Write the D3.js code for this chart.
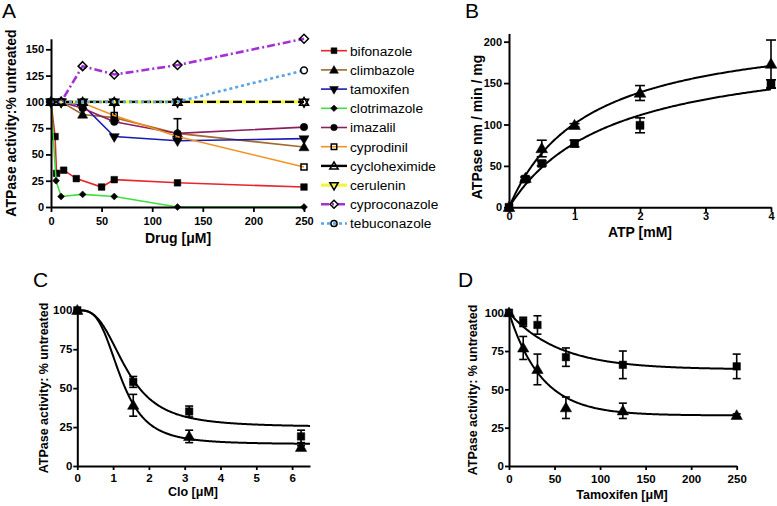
<!DOCTYPE html>
<html><head><meta charset="utf-8">
<script src="https://cdn.jsdelivr.net/npm/d3@7"></script>
<style>body{margin:0;background:#fff}</style>
</head><body><svg id="c" width="777" height="506"></svg>
<script>
// ---------- Panel A data ----------
const drugNames = ["bifonazole","climbazole","tamoxifen","clotrimazole","imazalil","cyprodinil","cycloheximide","cerulenin","cyproconazole","tebuconazole"];
const concA = [0, 10, 31.25, 62.5, 125, 250];
const bifonazoleX = [0, 4, 5.5, 12.5, 25, 50, 62.5, 125, 250];
const bifonazoleY = [100, 67, 32, 35, 27, 19, 26, 23, 19];
const clotrimazoleX = [0, 5, 10, 31.25, 62.5, 125, 250];
const clotrimazoleY = [100, 25, 10, 12, 10, 0, 0];
const climbazoleY = [100, 100, 88, 85, 70, 57];
const climbazoleErr = [0, 0, 6, 0, 0, 0];
const tamoxifenY = [100, 100, 97, 67, 63, 65];
const imazalilY = [100, 100, 94, 81, 70, 76];
const cyprodinilY = [100, 100, 99, 87, 67, 38];
const cyprodinilErr = [0, 0, 0, 11, 17, 0];
const cycloheximideY = [100, 100, 100, 100, 100, 100];
const ceruleninY = [100, 100, 100, 100, 100, 100];
const cyproconazoleY = [100, 100, 134, 126, 135, 160];
const tebuconazoleY = [100, 100, 100, 100, 100, 130];
const ticksAX = [0, 50, 100, 150, 200, 250];
const ticksAY = [0, 25, 50, 75, 100, 125, 150];

// ---------- Panel B data ----------
const atpConc = [0, 0.25, 0.5, 1, 2, 4];
const bTri = [0, 35, 71, 99, 138, 173];
const bTriErr = [0, 2, 10, 2, 9, 29];
const bSq = [0, 34, 53, 77, 99, 149];
const bSqErr = [0, 2, 3, 4, 9, 5];
const bTriFit = {vmax: 222, km: 1.2};
const bSqFit = {vmax: 198, km: 1.56};
const ticksBX = [0, 1, 2, 3, 4];
const ticksBY = [0, 50, 100, 150, 200];

// ---------- Panel C data ----------
const cloConc = [0, 1.5625, 3.125, 6.25];
const cSq = [100, 54, 35, 19];
const cSqErr = [0, 3.5, 3.5, 4];
const cTri = [100, 39, 19, 12];
const cTriErr = [0, 7, 4, 1];
const cSqFit = {top: 100, bottom: 25, ic50: 1.37, hill: 2.95};
const cTriFit = {top: 100, bottom: 14, ic50: 1.215, hill: 3.39};
const ticksCX = [0, 1, 2, 3, 4, 5, 6];
const ticksCY = [0, 25, 50, 75, 100];

// ---------- Panel D data ----------
const tamConc = [0, 15.625, 31.25, 62.5, 125, 250];
const dSq = [100, 94, 92, 71, 66, 65];
const dSqErr = [0, 3, 6, 6, 9, 8];
const dTri = [100, 77, 63, 38, 36, 33];
const dTriErr = [0, 7.5, 10, 7, 5, 1];
const dSqFit = {plateau: 63, k: 0.0181};
const dTriFit = {plateau: 33, k: 0.0279};
const ticksDX = [0, 50, 100, 150, 200, 250];
const ticksDY = [0, 25, 50, 75, 100];

// ---------- styles ----------
const FONT = "'Liberation Sans', Arial, Helvetica, sans-serif";
const styleA = {
  bifonazole:   {color:"#e8262a", w:1.6, dash:null, sym:"square", fill:true},
  climbazole:   {color:"#a0692f", w:1.6, dash:null, sym:"triangle", fill:true},
  tamoxifen:    {color:"#1b1bb0", w:1.6, dash:null, sym:"triangleDown", fill:true},
  clotrimazole: {color:"#3fe03f", w:1.6, dash:null, sym:"diamond", fill:true},
  imazalil:     {color:"#8c1f5e", w:1.6, dash:null, sym:"circle", fill:true},
  cyprodinil:   {color:"#f39224", w:1.6, dash:null, sym:"square", fill:false},
  cycloheximide:{color:"#000000", w:2.4, dash:"9,4", sym:"triangle", fill:false},
  cerulenin:    {color:"#f4f43c", w:3.2, dash:null, sym:"triangleDown", fill:false},
  cyproconazole:{color:"#a431d6", w:2.6, dash:"8,3,2,3", sym:"diamond", fill:false},
  tebuconazole: {color:"#5ba3e6", w:2.6, dash:"3,3", sym:"circle", fill:false}
};

const svg = d3.select("#c");
svg.append("rect").attr("width",777).attr("height",506).attr("fill","#fff");

function symPath(sym, size){
  if (sym === "diamond") {
    const r = Math.sqrt(size/2);
    const p = d3.path(); p.moveTo(0,-r); p.lineTo(r,0); p.lineTo(0,r); p.lineTo(-r,0); p.closePath();
    return p.toString();
  }
  const map = {square:d3.symbolSquare, triangle:d3.symbolTriangle, triangleDown:d3.symbolTriangle, circle:d3.symbolCircle};
  return d3.symbol().type(map[sym]).size(size)();
}
function drawMarker(g, x, y, sym, size, filled){
  const p = g.append("path").attr("d", symPath(sym, size))
    .attr("transform", `translate(${x},${y})` + (sym==="triangleDown" ? " rotate(180)" : "") + (sym==="triangle"? " translate(0,0.8)":""));
  if (filled) p.attr("fill","#000").attr("stroke","#000").attr("stroke-width",0.5);
  else p.attr("fill","none").attr("stroke","#000").attr("stroke-width",1.5);
  return p;
}

function drawAxes(g, x, y, tx, ty, o){
  const ax = g.append("g").attr("transform",`translate(0,${y.range()[0]})`)
    .call(d3.axisBottom(x).tickValues(tx).tickSize(o.tick).tickSizeOuter(0).tickPadding(o.padX).tickFormat(d3.format("d")));
  const ay = g.append("g").attr("transform",`translate(${x.range()[0]},0)`)
    .call(d3.axisLeft(y).tickValues(ty).tickSize(o.tick).tickSizeOuter(0).tickPadding(o.padY).tickFormat(d3.format("d")));
  [ax, ay].forEach(a => {
    a.select(".domain").attr("stroke","#000").attr("stroke-width",2);
    a.selectAll(".tick line").attr("stroke","#000").attr("stroke-width",1.8);
    a.selectAll(".tick text").attr("fill","#000").style("font-family",FONT)
      .style("font-weight","bold").style("font-size",o.fs+"px");
  });
}
function title(g, txt, x, y, fs, rot){
  g.append("text").text(txt).attr("text-anchor","middle")
    .attr("transform", `translate(${x},${y})` + (rot ? " rotate(-90)" : ""))
    .style("font-family",FONT).style("font-weight","bold").style("font-size",fs+"px").attr("fill","#000");
}
function letter(g, txt, x, y){
  g.append("text").text(txt).attr("x",x).attr("y",y)
    .style("font-family",FONT).style("font-size","21px").attr("fill","#000");
}
function errBars(g, x, y, xs, ys, es, cap, upOnly){
  xs.forEach((xv,i)=>{
    const e = es[i]; if(!e) return;
    const lo = upOnly ? ys[i] : ys[i]-e, hi = ys[i]+e;
    g.append("line").attr("x1",x(xv)).attr("x2",x(xv)).attr("y1",y(lo)).attr("y2",y(hi))
      .attr("stroke","#000").attr("stroke-width",1.6);
    g.append("line").attr("x1",x(xv)-cap).attr("x2",x(xv)+cap).attr("y1",y(hi)).attr("y2",y(hi))
      .attr("stroke","#000").attr("stroke-width",1.6);
    if(!upOnly) g.append("line").attr("x1",x(xv)-cap).attr("x2",x(xv)+cap).attr("y1",y(lo)).attr("y2",y(lo))
      .attr("stroke","#000").attr("stroke-width",1.6);
  });
}

// =============== Panel A ===============
{
  const g = svg.append("g");
  const x = d3.scaleLinear().domain([0,250]).range([51,304]);
  const y = d3.scaleLinear().domain([0,160]).range([207,38.8]);
  const seriesData = {
    bifonazole: {x: bifonazoleX, y: bifonazoleY},
    climbazole: {x: concA, y: climbazoleY, err: climbazoleErr},
    tamoxifen: {x: concA, y: tamoxifenY},
    clotrimazole: {x: clotrimazoleX, y: clotrimazoleY},
    imazalil: {x: concA, y: imazalilY},
    cyprodinil: {x: concA, y: cyprodinilY, err: cyprodinilErr},
    cycloheximide: {x: concA, y: cycloheximideY},
    cerulenin: {x: concA, y: ceruleninY},
    cyproconazole: {x: concA, y: cyproconazoleY},
    tebuconazole: {x: concA, y: tebuconazoleY}
  };
  const drawOrder = ["bifonazole","climbazole","tamoxifen","clotrimazole","imazalil","cyprodinil","cerulenin","cycloheximide","cyproconazole","tebuconazole"];
  const line = d3.line().x(d=>x(d[0])).y(d=>y(d[1]));
  drawOrder.forEach(name=>{
    const s = seriesData[name], st = styleA[name];
    const pts = s.x.map((v,i)=>[v, s.y[i]]);
    if (s.err) errBars(g, x, y, s.x, s.y, s.err, 4, true);
    g.append("path").attr("d", line(pts)).attr("fill","none").attr("stroke",st.color)
      .attr("stroke-width",st.w).attr("stroke-dasharray",st.dash);
    const size = st.sym==="diamond" ? (st.fill ? 24 : 40) : (st.fill ? 44 : 36);
    pts.forEach(p=>drawMarker(g, x(p[0]), y(p[1]), st.sym, size, st.fill));
  });
  drawAxes(g, x, y, ticksAX, ticksAY, {tick:5, padX:5, padY:2, fs:11});
  title(g, "Drug [\u03BCM]", 178, 243, 14, false);
  title(g, "ATPase activity:% untreated", 16, 123, 14, true);
  letter(g, "A", 2, 18);

  // legend
  drugNames.forEach((name,i)=>{
    const st = styleA[name];
    const ry = 50.7 + i*19.2;
    g.append("line").attr("x1",321).attr("x2",347).attr("y1",ry).attr("y2",ry)
      .attr("stroke",st.color).attr("stroke-width",st.w).attr("stroke-dasharray", st.dash ? (name==="cycloheximide" ? null : st.dash) : null);
    const size = st.sym==="diamond" ? (st.fill ? 22 : 32) : (st.fill ? 34 : 30);
    drawMarker(g, 334, ry, st.sym, size, st.fill);
    g.append("text").text(name).attr("x",350).attr("y",ry+4.8)
      .style("font-family",FONT).style("font-size","13.7px").attr("fill","#000");
  });
}

// =============== Panel B ===============
{
  const g = svg.append("g");
  const x = d3.scaleLinear().domain([0,4]).range([509,771]);
  const y = d3.scaleLinear().domain([0,210]).range([207.3,33.4]);
  const line = d3.line().x(d=>x(d[0])).y(d=>y(d[1]));
  const xs = d3.range(0, 4.0001, 0.02);
  [bTriFit, bSqFit].forEach(f=>{
    g.append("path").attr("d", line(xs.map(v=>[v, f.vmax*v/(f.km+v)])))
      .attr("fill","none").attr("stroke","#000").attr("stroke-width",2);
  });
  errBars(g, x, y, atpConc, bTri, bTriErr, 5, false);
  errBars(g, x, y, atpConc, bSq, bSqErr, 5, false);
  atpConc.forEach((v,i)=>{ drawMarker(g, x(v), y(bSq[i]), "square", 64, true); });
  atpConc.forEach((v,i)=>{ drawMarker(g, x(v), y(bTri[i]), "triangle", 60, true); });
  drawAxes(g, x, y, ticksBX, ticksBY, {tick:5, padX:0, padY:2, fs:11});
  title(g, "ATP [mM]", 640, 237, 14, false);
  title(g, "ATPase nm / min / mg", 482, 127, 14, true);
  letter(g, "B", 465, 18);
}

// =============== Panel C ===============
{
  const g = svg.append("g");
  const x = d3.scaleLinear().domain([0,6.5]).range([77.3,310]);
  const y = d3.scaleLinear().domain([0,100]).range([466,310.3]);
  const line = d3.line().x(d=>x(d[0])).y(d=>y(d[1]));
  const xs = d3.range(0, 6.5001, 0.02);
  [cSqFit, cTriFit].forEach(f=>{
    g.append("path").attr("d", line(xs.map(v=>[v, f.bottom + (f.top-f.bottom)/(1+Math.pow(v/f.ic50, f.hill))])))
      .attr("fill","none").attr("stroke","#000").attr("stroke-width",2);
  });
  errBars(g, x, y, cloConc, cSq, cSqErr, 4, false);
  errBars(g, x, y, cloConc, cTri, cTriErr, 4, false);
  cloConc.forEach((v,i)=>{ drawMarker(g, x(v), y(cSq[i]), "square", 56, true); });
  cloConc.forEach((v,i)=>{ drawMarker(g, x(v), y(cTri[i]), "triangle", 56, true); });
  drawAxes(g, x, y, ticksCX, ticksCY, {tick:4, padX:4, padY:1, fs:11.5});
  title(g, "Clo [\u03BCM]", 193, 496, 12.5, false);
  title(g, "ATPase activity: % untreated", 48, 388, 12.5, true);
  letter(g, "C", 33, 287);
}

// =============== Panel D ===============
{
  const g = svg.append("g");
  const x = d3.scaleLinear().domain([0,250]).range([509,736.7]);
  const y = d3.scaleLinear().domain([0,100]).range([466,312.7]);
  const line = d3.line().x(d=>x(d[0])).y(d=>y(d[1]));
  const xs = d3.range(0, 250.001, 1);
  [dSqFit, dTriFit].forEach(f=>{
    g.append("path").attr("d", line(xs.map(v=>[v, f.plateau + (100-f.plateau)*Math.exp(-f.k*v)])))
      .attr("fill","none").attr("stroke","#000").attr("stroke-width",2);
  });
  errBars(g, x, y, tamConc, dSq, dSqErr, 4, false);
  errBars(g, x, y, tamConc, dTri, dTriErr, 4, false);
  tamConc.forEach((v,i)=>{ drawMarker(g, x(v), y(dSq[i]), "square", 56, true); });
  tamConc.forEach((v,i)=>{ drawMarker(g, x(v), y(dTri[i]), "triangle", 56, true); });
  drawAxes(g, x, y, ticksDX, ticksDY, {tick:4, padX:5, padY:1, fs:11.5});
  title(g, "Tamoxifen [\u03BCM]", 622, 499, 12.5, false);
  title(g, "ATPase activity: % untreated", 477, 390, 12.5, true);
  letter(g, "D", 458, 287);
}
</script>
</body></html>
